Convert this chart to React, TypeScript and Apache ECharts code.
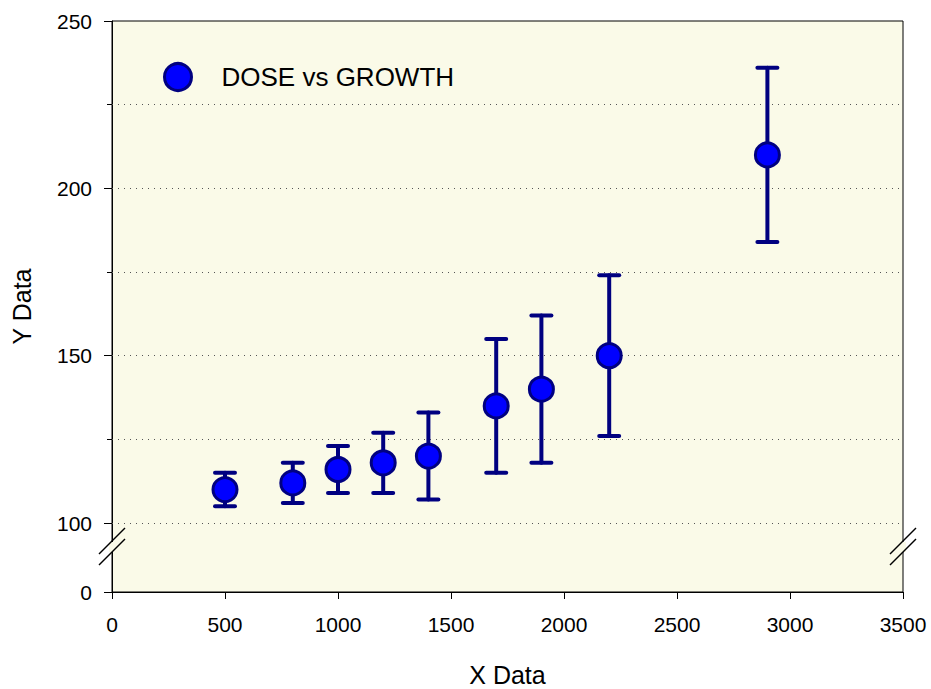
import React, { useEffect, useRef } from "react";
import * as echarts from "echarts";

const DOSE = [500, 800, 1000, 1200, 1400, 1700, 1900, 2200, 2900];
const GROWTH = [110, 112, 116, 118, 120, 135, 140, 150, 210];
const ERR_LOW = [105, 106, 109, 109, 107, 115, 118, 126, 184];
const ERR_HIGH = [115, 118, 123, 127, 133, 155, 162, 174, 236];

// Broken y axis: the "0" tick sits on a compressed segment below 100.
const Y_BREAK_ZERO = 79.4;
const Y_MAJOR_TICKS = [Y_BREAK_ZERO, 100, 150, 200, 250];
const Y_MINOR_TICKS = [125, 175, 225];
const Y_GRID_LINES = [100, 125, 150, 175, 200, 225];
const X_TICKS = [0, 3500, 500];

const FONT = "'Liberation Sans', Arial, Helvetica, sans-serif";
const NAVY = "#000080";
const BLUE = "#0000ff";
const GRID_BG = "#fafae8";

export default function App() {
  const ref = useRef<HTMLDivElement>(null);
  useEffect(() => {
    if (!ref.current) return;
    const chart = echarts.init(ref.current, null, { renderer: "svg" });
    const pts = DOSE.map((x, i) => [x, GROWTH[i]]);
    const errs = DOSE.map((x, i) => [x, ERR_LOW[i], ERR_HIGH[i]]);
    const yMin = Y_BREAK_ZERO;
    const yMax = 250;
    chart.setOption({
      animation: false,
      backgroundColor: "#ffffff",
      textStyle: { fontFamily: FONT },
      grid: {
        left: 112,
        right: 28,
        top: 21,
        bottom: 97,
        containLabel: false,
        outerBoundsMode: "none",
        show: true,
        backgroundColor: GRID_BG,
        borderColor: "#000",
        borderWidth: 1,
      },
      legend: {
        data: ["DOSE vs GROWTH"],
        left: 163,
        top: 62,
        padding: 0,
        icon: "circle",
        itemWidth: 27,
        itemHeight: 27,
        itemStyle: { color: BLUE, borderColor: NAVY, borderWidth: 3 },
        textStyle: { fontSize: 26, color: "#000", fontFamily: FONT, padding: [0, 0, 0, 25] },
      },
      xAxis: {
        type: "value",
        min: X_TICKS[0],
        max: X_TICKS[1],
        interval: X_TICKS[2],
        name: "X Data",
        nameLocation: "middle",
        nameGap: 70,
        nameTextStyle: { fontSize: 25, color: "#000", fontFamily: FONT },
        axisLine: { show: true, lineStyle: { color: "#000", width: 1 } },
        axisTick: { show: true, inside: false, length: 7, lineStyle: { color: "#000" } },
        axisLabel: {
          fontSize: 21,
          color: "#000",
          margin: 22,
          fontFamily: FONT,
          formatter: (v: number) => String(v),
        },
        splitLine: { show: false },
      },
      yAxis: [
        {
          type: "value",
          min: yMin,
          max: yMax,
          name: "Y Data",
          nameLocation: "middle",
          nameGap: 78,
          nameTextStyle: { fontSize: 25, color: "#000", fontFamily: FONT },
          axisLine: { show: true, lineStyle: { color: "#000", width: 1 } },
          axisTick: {
            show: true,
            inside: false,
            length: 8,
            customValues: Y_MAJOR_TICKS,
            lineStyle: { color: "#000" },
          },
          axisLabel: {
            fontSize: 21,
            color: "#000",
            margin: 20,
            fontFamily: FONT,
            customValues: Y_MAJOR_TICKS,
            formatter: (v: number) => (v < 100 ? "0" : String(Math.round(v))),
          },
          splitLine: { show: false },
        },
        {
          type: "value",
          min: yMin,
          max: yMax,
          position: "left",
          axisLine: { show: false },
          axisTick: {
            show: true,
            inside: false,
            length: 5,
            customValues: Y_MINOR_TICKS,
            lineStyle: { color: "#000" },
          },
          axisLabel: { show: false },
          splitLine: { show: false },
        },
      ],
      series: [
        {
          type: "custom",
          name: "errors",
          z: 2,
          data: errs,
          encode: { x: 0, y: [1, 2] },
          renderItem: (params: any, api: any) => {
            const x = api.value(0);
            const lo = api.coord([x, api.value(1)]);
            const hi = api.coord([x, api.value(2)]);
            const cap = 10;
            const style = { stroke: NAVY, lineWidth: 4, lineCap: "round" };
            return {
              type: "group",
              children: [
                { type: "line", shape: { x1: hi[0], y1: hi[1], x2: lo[0], y2: lo[1] }, style },
                { type: "line", shape: { x1: hi[0] - cap, y1: hi[1], x2: hi[0] + cap, y2: hi[1] }, style },
                { type: "line", shape: { x1: lo[0] - cap, y1: lo[1], x2: lo[0] + cap, y2: lo[1] }, style },
              ],
            };
          },
        },
        {
          type: "scatter",
          name: "DOSE vs GROWTH",
          z: 3,
          data: pts,
          symbol: "circle",
          symbolSize: 24,
          itemStyle: { color: BLUE, borderColor: NAVY, borderWidth: 3, opacity: 1 },
          emphasis: { disabled: true },
          markLine: {
            silent: true,
            symbol: "none",
            label: { show: false },
            lineStyle: { type: [1, 5], color: "#555", width: 1 },
            data: Y_GRID_LINES.map((v) => ({ yAxis: v })),
            z: 1,
          },
        },
      ],
      graphic: [
        { type: "rect", shape: { x: 109, y: 542, width: 6, height: 10 }, style: { fill: GRID_BG }, z: 100 },
        { type: "line", shape: { x1: 99, y1: 554, x2: 125, y2: 528 }, style: { stroke: "#000", lineWidth: 1.5 }, z: 101 },
        { type: "line", shape: { x1: 99, y1: 565, x2: 125, y2: 539 }, style: { stroke: "#000", lineWidth: 1.5 }, z: 101 },
        { type: "rect", shape: { x: 900, y: 542, width: 6, height: 10 }, style: { fill: GRID_BG }, z: 100 },
        { type: "line", shape: { x1: 890, y1: 554, x2: 916, y2: 528 }, style: { stroke: "#000", lineWidth: 1.5 }, z: 101 },
        { type: "line", shape: { x1: 890, y1: 565, x2: 916, y2: 539 }, style: { stroke: "#000", lineWidth: 1.5 }, z: 101 },
      ],
    });
    return () => chart.dispose();
  }, []);
  return <div ref={ref} style={{ width: 931, height: 689, position: "absolute", left: 0, top: 0 }} />;
}
